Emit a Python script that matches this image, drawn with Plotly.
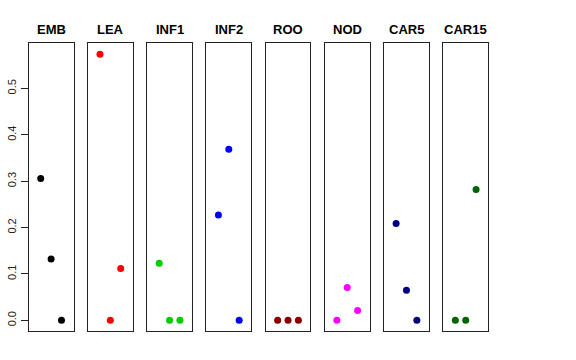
import plotly.graph_objects as go

panels = ["EMB", "LEA", "INF1", "INF2", "ROO", "NOD", "CAR5", "CAR15"]
colors = ["#000000", "#FF0000", "#00CD00", "#0000FF", "#8B0000", "#FF00FF", "#000080", "#006400"]
x_pos = [1, 2, 3]
values = {
    "EMB": [0.306, 0.132, 0.0],
    "LEA": [0.574, 0.0, 0.112],
    "INF1": [0.123, 0.0, 0.0],
    "INF2": [0.227, 0.369, 0.0],
    "ROO": [0.0, 0.0, 0.0],
    "NOD": [0.0, 0.071, 0.021],
    "CAR5": [0.209, 0.065, 0.0],
    "CAR15": [0.0, 0.0, 0.282],
}
y_ticks = [0.0, 0.1, 0.2, 0.3, 0.4, 0.5]

W, H = 576, 360
fig = go.Figure()
left0, pitch, pw = 28.7, 59.23, 44.8
top_px, bot_px = 43, 331
layout = {}
for i, name in enumerate(panels):
    k = "" if i == 0 else str(i + 1)
    l = left0 + i * pitch
    fig.add_trace(go.Scatter(
        x=x_pos, y=values[name], mode="markers",
        marker=dict(color=colors[i], size=7, line=dict(width=0)),
        xaxis="x" + k, yaxis="y" + k, showlegend=False, hoverinfo="skip"))
    layout["xaxis" + k] = dict(
        domain=[l / W, (l + pw) / W], range=[-0.16, 4.16],
        showticklabels=False, ticks="", showgrid=False, zeroline=False,
        showline=True, mirror=True, linecolor="#222222", linewidth=1,
        anchor="y" + k, fixedrange=True, automargin=False)
    ya = dict(
        domain=[1 - bot_px / H, 1 - top_px / H], range=[-0.023, 0.598],
        showgrid=False, zeroline=False, showline=True, mirror=True,
        linecolor="#222222", linewidth=1, anchor="x" + k, fixedrange=True,
        automargin=False)
    if i == 0:
        ya.update(tickvals=y_ticks, ticktext=[f"{v:.1f}" for v in y_ticks],
                  ticks="outside", ticklen=7, tickcolor="#222222",
                  tickangle=-90, tickfont=dict(family="Liberation Sans", size=11, color="#222222"))
    else:
        ya.update(showticklabels=False, ticks="")
    layout["yaxis" + k] = ya
    fig.add_annotation(x=(l + pw / 2) / W, y=1 - 29 / H, xref="paper", yref="paper",
                       xanchor="center", yanchor="middle",
                       text="<b>" + name + "</b>", showarrow=False,
                       font=dict(family="Liberation Sans", size=13, color="black"))

fig.update_layout(width=W, height=H, margin=dict(l=0, r=0, t=0, b=0, autoexpand=False),
                  paper_bgcolor="white", plot_bgcolor="white", **layout)
fig.write_html("out.html", config={"displayModeBar": False},
               post_script="document.body.style.margin='0';")
